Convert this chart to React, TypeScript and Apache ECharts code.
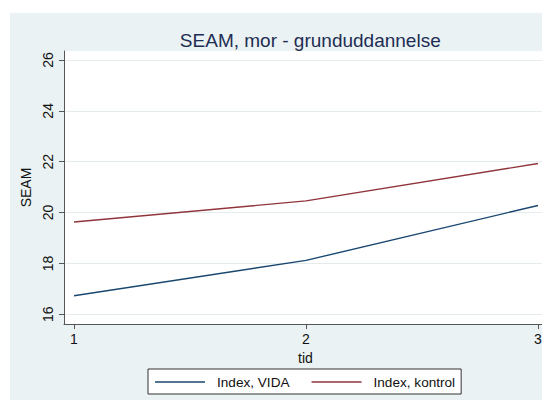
import React, { useEffect, useRef } from "react";
import * as echarts from "echarts";

const tid = [1, 2, 3];
const vida = [16.73, 18.12, 20.28];
const kontrol = [19.63, 20.46, 21.93];
const yTicks = [16, 18, 20, 22, 24, 26];
const xTicks = [1, 2, 3];

export default function App() {
  const ref = useRef<HTMLDivElement>(null);
  useEffect(() => {
    if (!ref.current) return;
    const chart = echarts.init(ref.current, null, { renderer: "svg" });
    const font = "'Liberation Sans', Arial, sans-serif";
    chart.setOption({
      animation: false,
      textStyle: { fontFamily: font },
      graphic: [
        {
          type: "rect",
          z: -10,
          silent: true,
          shape: { x: 2, y: 5, width: 540, height: 387 },
          style: { fill: "#eaf2f3" },
        },
      ],
      title: {
        text: "SEAM, mor - grunduddannelse",
        left: 297.3,
        top: 18,
        textAlign: "center",
        textStyle: { fontFamily: font, fontSize: 19, fontWeight: "normal", color: "#1e2d53" },
      },
      grid: {
        left: 56,
        top: 43,
        width: 483,
        height: 273,
        show: true,
        backgroundColor: "#ffffff",
        borderWidth: 0,
      },
      xAxis: {
        type: "value",
        min: 0.9569,
        max: 3.0388,
        name: "tid",
        nameLocation: "middle",
        nameGap: 22,
        nameTextStyle: { fontSize: 14, color: "#111" },
        axisLine: { show: true, lineStyle: { color: "#555", width: 1 } },
        axisTick: { show: true, length: 5, customValues: xTicks, lineStyle: { color: "#555" } },
        axisLabel: { customValues: xTicks, fontSize: 14, color: "#111", margin: 8 },
        splitLine: { show: false },
      },
      yAxis: {
        type: "value",
        min: 15.619,
        max: 26.354,
        name: "SEAM",
        nameLocation: "middle",
        nameGap: 26,
        nameTextStyle: { fontSize: 14, color: "#111" },
        axisLine: { show: true, lineStyle: { color: "#555", width: 1 } },
        axisTick: { show: true, length: 5, customValues: yTicks, lineStyle: { color: "#555" } },
        axisLabel: { customValues: yTicks, fontSize: 14, color: "#111", rotate: 90, margin: 9 },
        splitLine: { show: true, lineStyle: { color: "#e4ecee", width: 1 } },
      },
      legend: {
        left: 140,
        top: 361,
        padding: [6, 6, 5, 7],
        backgroundColor: "#ffffff",
        borderColor: "#333",
        borderWidth: 1,
        borderRadius: 0,
        itemWidth: 50,
        itemHeight: 1.5,
        itemGap: 22,
        icon: "rect",
        textStyle: { fontSize: 13.6, color: "#111", padding: [0, 0, 0, 7] },
        data: ["Index, VIDA", "Index, kontrol"],
      },
      series: [
        {
          name: "Index, VIDA",
          type: "line",
          data: tid.map((t, i) => [t, vida[i]]),
          showSymbol: false,
          symbol: "none",
          lineStyle: { color: "#1a476f", width: 1.4 },
          itemStyle: { color: "#1a476f" },
        },
        {
          name: "Index, kontrol",
          type: "line",
          data: tid.map((t, i) => [t, kontrol[i]]),
          showSymbol: false,
          symbol: "none",
          lineStyle: { color: "#90353b", width: 1.4 },
          itemStyle: { color: "#90353b" },
        },
      ],
    });
    return () => chart.dispose();
  }, []);
  return <div ref={ref} style={{ width: 542, height: 393 }} />;
}
